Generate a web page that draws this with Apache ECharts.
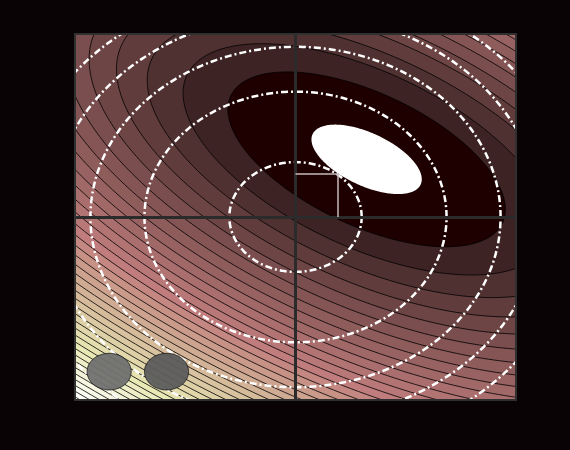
<!DOCTYPE html>
<html><head><meta charset="utf-8">
<script src="https://cdn.jsdelivr.net/npm/echarts@6/dist/echarts.min.js"></script>
<style>html,body{margin:0;padding:0;background:#090305;}#c{width:570px;height:450px;}</style>
</head><body><div id="c"></div>
<script>
// ---- data (in data units) ----
const lossCenter = [0.645, 0.63];           // minimum of the loss
const lossSemiAxes = [1.419, 0.695];        // contour ellipse semi-axes at level 1
const lossTilt = -32;                        // degrees
const contourLevels = [1, 1.75, 2.5, 3.25, 4, 4.75, 5.5, 6.25, 7, 7.75, 8.5, 9.25, 10, 10.75, 11.5, 12.25,
  13, 13.75, 14.5, 15.25, 16, 16.75, 17.5, 18.25, 19, 19.75, 20.5, 21.25, 22, 22.75, 23.5, 24.25, 25, 25.75,
  26.5, 27.25, 28];
const optimumLevel = 0.158;                  // white ellipse (level through constrained optimum)
const constraintRadii = [0.6, 1.37, 1.86, 2.22, 2.55];
const constrainedOpt = [0.38, 0.47];
const markerCenters = [[-1.69, -1.69], [-1.17, -1.69]];
const markerRadius = 0.2;
const axisRange = [-2, 2];

// ---- helpers ----
function pink(t){
  const hr=Math.min(1,(63*t+1)/24), hg=Math.min(1,Math.max(0,(63*t+1-24)/24)), hb=Math.min(1,Math.max(0,(63*t+1-48)/16));
  const f=v=>Math.round(255*Math.sqrt((2*t+v)/3));
  return 'rgb('+f(hr)+','+f(hg)+','+f(hb)+')';
}
function ellipsePts(api, c, a, b, deg, n){
  const p=[], th=deg*Math.PI/180, ct=Math.cos(th), st=Math.sin(th);
  for(let i=0;i<n;i++){
    const t=2*Math.PI*i/n, u=a*Math.cos(t), v=b*Math.sin(t);
    p.push(api.coord([c[0]+u*ct-v*st, c[1]+u*st+v*ct]));
  }
  return p;
}
const nBands = contourLevels.length + 1;
const bandColor = j => pink(Math.min(1, j/(nBands-2)));
const levelsDesc = contourLevels.slice().reverse();

const chart = echarts.init(document.getElementById('c'), null, {renderer:'canvas'});
const axisStyle = {show:true, onZero:false, lineStyle:{color:'#2f302f', width:2}};
const xa = pos => ({type:'value', min:axisRange[0], max:axisRange[1], position:pos, axisLine:axisStyle, axisTick:{show:false}, axisLabel:{show:false}, splitLine:{show:false}, z:10});
chart.setOption({
  backgroundColor:'#090305',
  animation:false,
  grid:{left:75, top:34, width:441, height:366, show:true, borderWidth:0, backgroundColor:bandColor(nBands-1)},
  xAxis:[xa('bottom'), xa('top')],
  yAxis:[xa('left'), xa('right')],
  series:[
    { // filled contours
      type:'custom', clip:true, z:1, silent:true,
      data: levelsDesc.map(L=>[L]),
      renderItem:(params, api)=>{
        const L = levelsDesc[params.dataIndex];
        const s = Math.sqrt(L);
        const idx = contourLevels.indexOf(L);
        return {type:'polygon', shape:{points:ellipsePts(api, lossCenter, lossSemiAxes[0]*s, lossSemiAxes[1]*s, lossTilt, 360)},
          style:{fill:bandColor(idx), stroke:'#000', lineWidth:0.8}};
      },
      markLine:{silent:true, symbol:'none', label:{show:false}, lineStyle:{color:'#2b2b2b', width:3, type:'solid'},
        data:[{xAxis:0},{yAxis:0}]}
    },
    { // white optimum ellipse
      type:'custom', clip:true, z:3, silent:true, data:[[optimumLevel]],
      renderItem:(params, api)=>{
        const s=Math.sqrt(optimumLevel);
        return {type:'polygon', shape:{points:ellipsePts(api, lossCenter, lossSemiAxes[0]*s, lossSemiAxes[1]*s, lossTilt, 240)},
          style:{fill:'#ffffff'}};
      },
      markLine:{silent:true, symbol:'none', label:{show:false}, lineStyle:{color:'#c8b8b8', width:1.5, type:'solid'},
        data:[[{coord:[0, constrainedOpt[1]]},{coord:constrainedOpt}], [{coord:constrainedOpt},{coord:[constrainedOpt[0], 0]}]]}
    },
    { // dashed constraint circles
      type:'custom', clip:true, z:4, silent:true, data:constraintRadii.map(r=>[r]),
      renderItem:(params, api)=>{
        const r=constraintRadii[params.dataIndex];
        const pts=ellipsePts(api,[0,0],r,r,0,360); pts.push(pts[0]);
        return {type:'polyline', shape:{points:pts}, style:{fill:null, stroke:'#ffffff', lineWidth:2.5, lineDash:[7,3,2,3]}};
      }
    },
    { // grey markers
      type:'custom', clip:true, z:5, silent:true, data:markerCenters.map(c=>c),
      renderItem:(params, api)=>{
        const c=markerCenters[params.dataIndex];
        return {type:'polygon', shape:{points:ellipsePts(api,c,markerRadius,markerRadius,0,120)},
          style:{fill:params.dataIndex===0?'#707070':'#5c5c5c', stroke:'#111', lineWidth:0.8, opacity:0.95}};
      }
    }
  ]
});
</script></body></html>
